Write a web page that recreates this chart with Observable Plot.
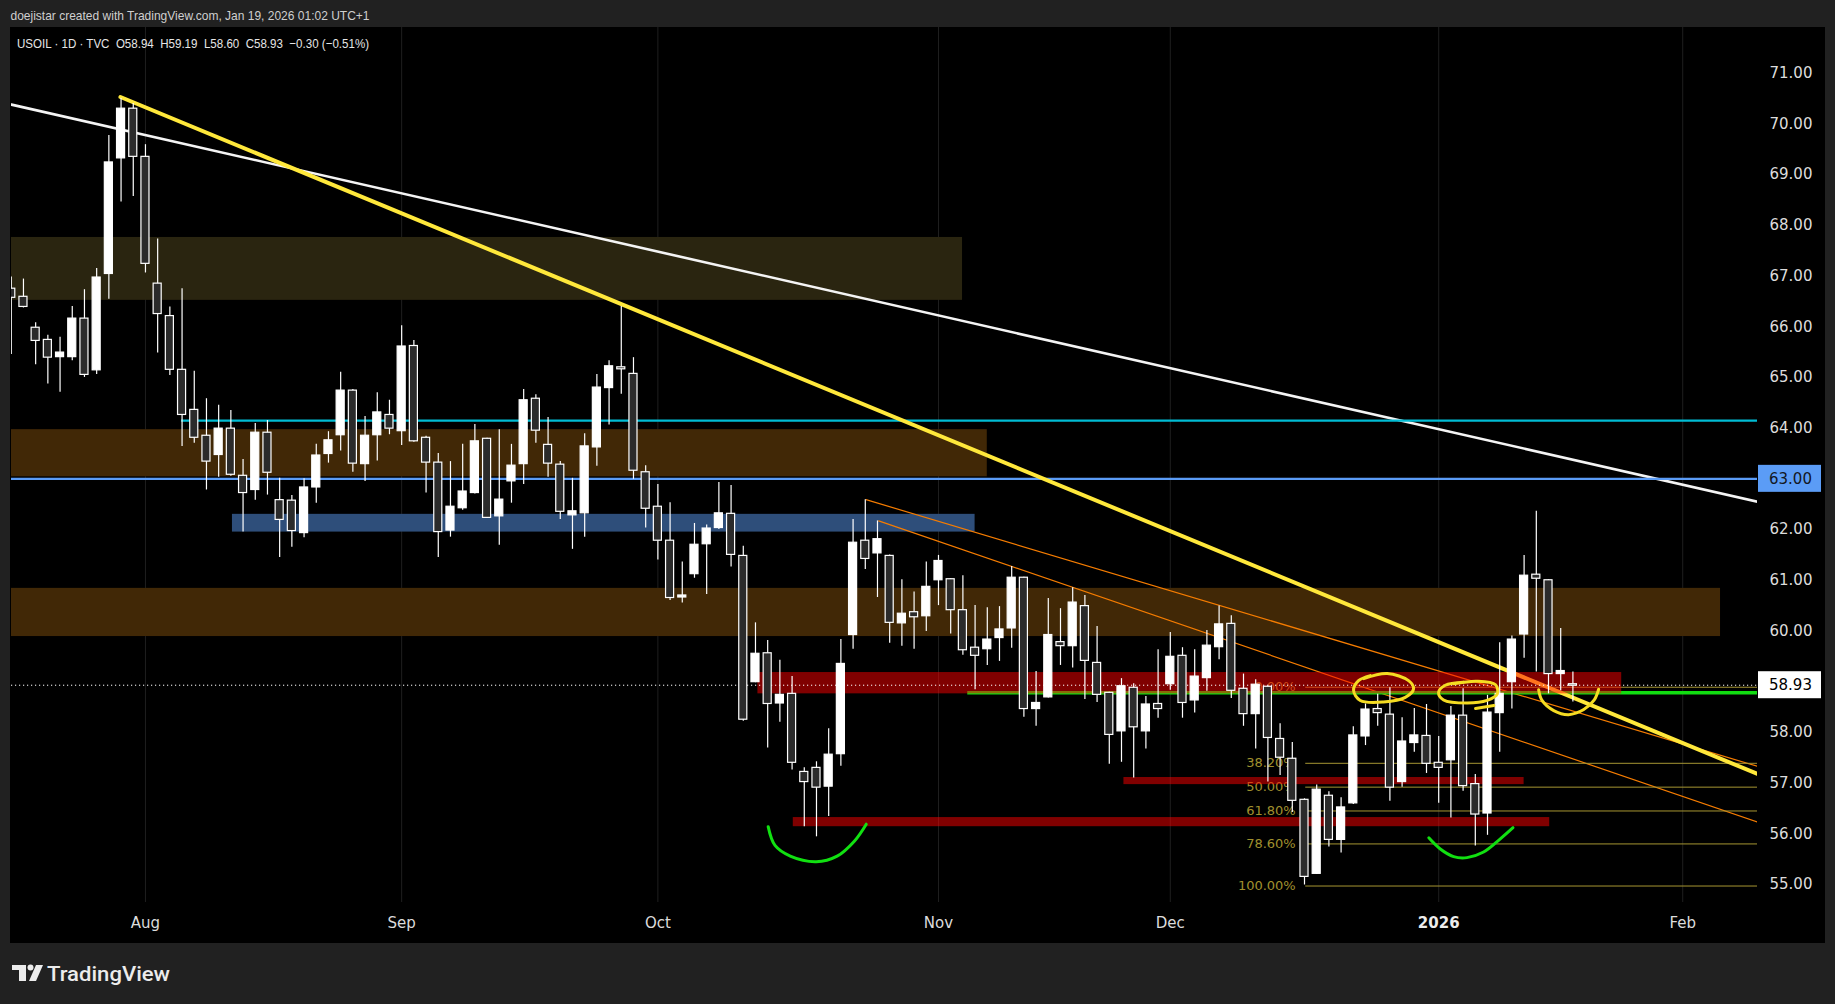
<!DOCTYPE html>
<html><head><meta charset="utf-8">
<script src="https://cdn.jsdelivr.net/npm/d3@7"></script>
<script src="https://cdn.jsdelivr.net/npm/@observablehq/plot@0.6"></script>
<style>
html,body{margin:0;padding:0;background:#212121;}
body{width:1835px;height:1004px;position:relative;overflow:hidden;}
#panel{position:absolute;left:10px;top:27px;width:1815px;height:916px;background:#000;}
#panel svg{display:block;}
.abs{position:absolute;}
</style></head><body>
<svg class="abs" style="left:0;top:0" width="700" height="27"><text x="10.5" y="19.5" textLength="359" lengthAdjust="spacingAndGlyphs" fill="#cfcfcf" font-size="13" font-family="'Liberation Sans', Arial, sans-serif" style="white-space:pre">doejistar created with TradingView.com, Jan 19, 2026 01:02 UTC+1</text></svg>
<div id="panel"></div>
<svg class="abs" style="left:10px;top:27px" width="600" height="32"><text x="7" y="21" textLength="352" lengthAdjust="spacingAndGlyphs" fill="#e6e6e6" font-size="13" font-family="'Liberation Sans', Arial, sans-serif" style="white-space:pre">USOIL · 1D · TVC  O58.94  H59.19  L58.60  C58.93  −0.30 (−0.51%)</text></svg>
<svg class="abs" style="left:12px;top:960px" width="220" height="34">
  <path d="M0 5h14v16H7V10H0z" fill="#ececec"/><circle cx="18.5" cy="7.5" r="3" fill="#ececec"/><path d="M24 5h7l-7 16h-7z" fill="#ececec"/>
  <text x="35" y="21" font-size="20" font-family="Roboto, sans-serif" font-weight="500" fill="#ececec" textLength="123" lengthAdjust="spacingAndGlyphs">TradingView</text>
</svg>
<script>
// ---- candles (bar index 0 = Aug 1, 2025) ----
const startIdx = -11;
const open  = [66.75,66.59,65.98,65.74,65.40,65.40,66.16,65.14,67.04,69.32,70.30,
  69.35,66.85,66.21,65.15,64.36,63.85,63.47,63.99,63.06,62.78,63.91,62.58,62.57,61.93,62.83,63.49,63.86,64.74,63.29,63.86,64.26,
  63.94,65.62,63.81,63.32,61.98,62.42,62.72,63.79,62.26,62.95,63.29,64.58,63.67,63.28,62.28,62.32,63.62,64.79,65.20,65.07,63.13,
  62.45,61.78,60.66,61.12,61.71,62.03,62.31,61.48,58.99,59.56,58.57,58.76,57.22,57.30,56.93,57.57,59.92,61.78,61.53,
  61.48,60.15,60.37,60.29,61.00,61.02,60.41,59.67,59.64,59.86,60.05,61.05,58.46,58.69,59.78,59.70,60.49,59.37,58.78,58.02,58.88,58.02,58.56,
  58.95,59.51,58.63,59.07,59.68,60.14,58.86,58.36,58.90,57.87,57.48,56.67,55.21,56.75,55.88,56.60,57.92,58.46,58.35,57.02,57.79,57.93,
  57.40,57.45,58.33,56.98,56.40,58.38,58.99,59.93,61.11,61.00,59.15,58.94];
const high  = [66.98,66.94,66.08,65.83,65.79,66.40,66.73,67.15,69.77,70.50,70.40,
  69.59,67.73,66.39,66.75,65.12,64.58,64.45,64.35,63.38,64.09,64.15,63.01,62.67,63.00,63.68,63.93,65.10,64.76,64.23,64.70,64.55,
  66.02,65.73,63.84,63.50,63.34,63.68,64.07,63.80,63.97,63.68,64.76,64.66,64.21,63.34,63.01,63.89,65.06,65.33,66.40,65.39,63.26,
  62.89,62.53,61.36,62.12,62.09,62.93,62.87,61.67,60.16,59.81,59.42,59.10,57.30,57.42,58.07,59.83,62.20,62.59,62.17,
  61.50,61.01,60.77,61.36,61.49,61.03,61.09,60.50,60.46,60.48,61.27,61.06,59.20,60.64,60.44,60.85,60.70,60.09,58.79,59.06,58.96,58.71,59.63,
  59.97,59.67,59.63,60.01,60.49,60.30,59.15,59.04,58.91,58.17,57.80,56.69,56.96,56.83,56.71,58.11,58.56,58.75,58.88,58.29,58.47,58.55,
  57.92,58.51,58.86,57.17,58.73,59.77,59.90,61.49,62.36,61.01,60.05,59.19];
const low   = [65.45,66.37,65.25,64.87,64.71,65.33,65.00,65.06,66.54,68.46,68.57,
  67.06,65.48,65.04,63.64,63.70,62.78,63.03,63.05,61.95,62.58,62.68,61.45,61.65,61.84,62.52,63.31,63.55,63.13,62.95,63.35,63.87,
  63.66,63.72,62.72,61.45,61.85,62.38,62.70,62.22,61.69,62.52,62.89,63.70,63.03,62.20,61.61,61.85,63.25,64.06,64.67,62.99,62.03,
  61.40,60.60,60.55,61.04,60.72,62.00,61.26,58.22,58.98,57.69,58.20,57.26,56.14,55.94,56.34,57.33,59.64,61.21,60.66,
  59.76,59.70,59.64,59.99,60.50,59.94,59.52,58.84,59.32,59.40,59.66,58.30,58.12,58.68,59.32,59.27,58.65,58.59,57.37,57.41,57.10,57.67,58.28,
  58.83,58.28,58.38,58.81,59.43,58.67,58.12,57.67,57.02,57.15,56.42,54.99,55.20,55.74,55.62,56.58,57.74,58.12,56.64,56.92,57.61,57.19,
  56.60,56.31,56.84,55.76,55.97,57.61,58.46,59.46,59.19,58.76,58.82,58.60];
const close = [66.57,66.39,65.72,65.39,65.49,66.16,65.05,66.97,69.24,70.30,69.35,
  67.24,66.25,65.15,64.26,63.81,63.34,63.99,63.08,62.72,63.91,63.12,62.19,61.97,62.83,63.46,63.76,64.74,63.30,63.85,64.31,63.99,
  65.61,63.74,63.32,61.95,62.45,62.75,63.74,62.23,62.59,63.26,64.55,63.95,63.30,62.35,62.36,63.64,64.80,65.22,65.16,63.16,62.41,
  61.78,60.65,60.70,61.70,62.02,62.32,61.50,58.25,59.55,58.56,58.74,57.40,57.02,56.91,57.56,59.35,61.74,61.42,61.81,
  60.16,60.34,60.27,60.87,61.38,60.41,59.62,59.51,59.83,60.03,61.05,58.46,58.58,59.92,59.70,60.56,59.41,58.74,57.95,58.91,58.10,58.55,58.46,
  59.49,58.58,59.10,59.71,60.13,58.82,58.36,58.94,57.89,57.50,56.65,55.15,56.87,55.88,56.52,57.94,58.45,58.38,56.91,57.82,57.94,57.38,
  57.30,58.33,56.94,56.38,58.39,58.76,59.83,61.09,61.03,59.15,59.21,58.93];

// ---- axes ----
const monthIdx    = [0, 21, 42, 65, 84, 106, 126];
const monthLabels = ["Aug", "Sep", "Oct", "Nov", "Dec", "2026", "Feb"];
const priceTicks  = [55, 56, 57, 58, 60, 61, 62, 64, 65, 66, 67, 68, 69, 70, 71];
const lastPrice = 58.93;
const markedLevel = 63.00;

// ---- drawings (bar index, price) ----
const whiteTrend  = [[-10.98, 70.38], [132.13, 62.55]];
const yellowTrend = [[-2.05, 70.53], [132.13, 57.18]];
const orangeA     = [[59.06, 62.59], [132.13, 57.33]];
const orangeB     = [[60.10, 62.17], [132.13, 56.23]];
const zoneNames   = ["olive", "brown1", "brown2", "blue"];
const zoneFrom    = [-11, -11, -11, 7.13];
const zoneTo      = [66.97, 69.0, 129.1, 68.0];
const zoneLow     = [66.52, 63.04, 59.89, 61.95];
const zoneHigh    = [67.76, 63.97, 60.84, 62.30];
const zoneColor   = ["#2a2510", "#412806", "#412806", "#2e4e7a"];
const redFrom     = [50.2, 80.2, 53.1];
const redTo       = [121.0, 113.0, 115.1];
const redLow      = [58.76, 56.97, 56.14];
const redHigh     = [59.18, 57.11, 56.32];
const levelPrice  = [64.15, 63.00, 58.78];
const levelFrom   = [2.95, -11, 67.4];
const levelColor  = ["#00bcd4", "#5b9cf6", "#11dd11"];
const levelWidth  = [2.2, 2.4, 3.5];
const fibStart    = 95.1;
const fibPrices   = [58.89, 57.39, 56.92, 56.45, 55.80, 54.97];
const fibLabels   = ["0.00%", "38.20%", "50.00%", "61.80%", "78.60%", "100.00%"];
const loopA = [[99.86,59.06],[101.78,59.16],[103.53,59.02],[103.94,58.86],[103.26,58.69],[101.48,58.60],[99.57,58.63],[99.02,58.83],[99.43,59.02],[100.39,59.12]];
const loopB = [[107.22,58.96],[109.16,59.01],[110.66,58.94],[110.80,58.76],[109.96,58.63],[108.32,58.58],[106.40,58.64],[105.99,58.79],[106.54,58.93],[108.04,58.99]];
const loopBTail = [[109.02,58.47],[110.52,58.53]];
const loopC = [[114.19,58.84],[114.47,58.63],[115.43,58.43],[116.65,58.35],[117.89,58.45],[118.75,58.64],[119.11,58.85]];
const greenCurve1 = [[51.04,56.14],[51.60,55.77],[52.85,55.56],[54.98,55.45],[56.69,55.56],[58.12,55.86],[59.08,56.19]];
const greenCurve2 = [[105.19,55.92],[106.13,55.70],[107.22,55.55],[108.32,55.53],[109.68,55.64],[111.05,55.90],[112.09,56.12]];

// ---- build tables ----
const X0 = -10.98, X1 = 132.13, Y0 = 54.645, Y1 = 71.901;
const candles = open.map((o, k) => {
  const c = close[k];
  let lo = Math.min(o, c), hi = Math.max(o, c);
  if (hi - lo < 0.03) { const m = (hi + lo) / 2; lo = m - 0.015; hi = m + 0.015; }
  return {i: startIdx + k, o, c, h: high[k], l: low[k], b1: lo, b2: hi, fill: c >= o ? "#ffffff" : "#2b2b2b"};
});
const zones = zoneNames.map((n, k) => ({x1: Math.max(zoneFrom[k], X0), x2: zoneTo[k], y1: zoneLow[k], y2: zoneHigh[k], color: zoneColor[k]}));
const reds = redFrom.map((f, k) => ({x1: f, x2: redTo[k], y1: redLow[k], y2: redHigh[k]}));
const levels = levelPrice.map((p, k) => ({p, x1: Math.max(levelFrom[k], X0), color: levelColor[k], w: levelWidth[k]}));
const fib = fibPrices.map((p, k) => ({p, label: fibLabels[k]}));
const months = monthIdx.map((i, k) => ({i, label: monthLabels[k]}));
const xy = {x: d => d[0], y: d => d[1]};

const plot = Plot.plot({
  width: 1815, height: 916,
  marginLeft: 1, marginRight: 68, marginTop: 0, marginBottom: 41,
  x: {domain: [X0, X1], axis: null},
  y: {domain: [Y0, Y1], axis: null},
  color: {type: "identity"},
  style: {background: "transparent", color: "#d9d9d9", fontFamily: "'DejaVu Sans', sans-serif", fontSize: "15px", overflow: "visible"},
  marks: [
    Plot.ruleX(monthIdx, {x: d => d, stroke: "#1f1f1f", strokeWidth: 1}),
    Plot.rect(zones, {x1: "x1", x2: "x2", y1: "y1", y2: "y2", fill: "color", clip: true}),
    Plot.line(whiteTrend, {...xy, stroke: "#f4f4f4", strokeWidth: 2.6, clip: true}),
    Plot.ruleY(levels.slice(0, 2), {y: "p", x1: "x1", x2: () => X1, stroke: "color", strokeWidth: "w"}),
    Plot.line(orangeA, {...xy, stroke: "#f57c00", strokeWidth: 1.2, clip: true}),
    Plot.line(orangeB, {...xy, stroke: "#f57c00", strokeWidth: 1.2, clip: true}),
    Plot.ruleY(fib, {y: "p", x1: () => fibStart, x2: () => X1, stroke: "#a69532", strokeWidth: 1}),
    Plot.text(fib, {x: () => fibStart, y: "p", dx: -10, text: "label", textAnchor: "end", fill: "#a0902e", fontSize: 13}),
    Plot.ruleY(levels.slice(2), {y: "p", x1: "x1", x2: () => X1, stroke: "color", strokeWidth: "w"}),
    Plot.line(yellowTrend, {...xy, stroke: "#ffe83b", strokeWidth: 4, clip: true}),
    Plot.rect(reds, {x1: "x1", x2: "x2", y1: "y1", y2: "y2", fill: "#ff0000", fillOpacity: 0.5}),
    Plot.ruleY([lastPrice], {y: d => d, stroke: "#ffffff", strokeWidth: 1, strokeDasharray: "1.2,2.8"}),
    Plot.ruleX(candles, {x: "i", y1: "l", y2: "h", stroke: "#ffffff", strokeWidth: 1.2, clip: true}),
    Plot.rect(candles, {x1: d => d.i - 0.33, x2: d => d.i + 0.33, y1: "b1", y2: "b2", fill: "fill", stroke: "#ffffff", strokeWidth: 1.2, clip: true}),
    Plot.line(loopA, {...xy, stroke: "#f5dc22", strokeWidth: 3, curve: "catmull-rom"}),
    Plot.line(loopB, {...xy, stroke: "#f5dc22", strokeWidth: 3, curve: "catmull-rom"}),
    Plot.line(loopBTail, {...xy, stroke: "#f5dc22", strokeWidth: 3}),
    Plot.line(loopC, {...xy, stroke: "#f5dc22", strokeWidth: 3, curve: "catmull-rom"}),
    Plot.line(greenCurve1, {...xy, stroke: "#11e011", strokeWidth: 3, curve: "catmull-rom"}),
    Plot.line(greenCurve2, {...xy, stroke: "#11e011", strokeWidth: 3, curve: "catmull-rom"}),
    Plot.text(priceTicks, {x: () => X1, y: d => d, dx: 12, textAnchor: "start", text: d => d.toFixed(2), fill: "#dcdcdc", fontSize: 15}),
    Plot.text(months.filter(d => d.label !== "2026"), {x: "i", y: () => Y0, dy: 21, text: "label", fill: "#dcdcdc", fontSize: 15}),
    Plot.text(months.filter(d => d.label === "2026"), {x: "i", y: () => Y0, dy: 21, text: "label", fill: "#ececec", fontSize: 15, fontWeight: "bold"})
  ]
});
document.getElementById("panel").appendChild(plot);

// price labels on the axis, positioned through the plot's own scales
const sx = plot.scale("x"), sy = plot.scale("y");
const xr = sx.apply(X1);
const svg = d3.select(plot);
[[markedLevel, "#5b9cf6", "#131722"], [lastPrice, "#ffffff", "#000000"]].forEach(([v, bg, fg]) => {
  const yy = sy.apply(v);
  const g = svg.append("g");
  g.append("rect").attr("x", xr + 1).attr("y", yy - 13.5).attr("width", 63).attr("height", 27).attr("fill", bg);
  g.append("text").attr("x", xr + 12).attr("y", yy).attr("dy", "0.35em").attr("fill", fg)
    .attr("text-anchor", "start").style("text-anchor", "start")
    .attr("font-size", 15).attr("font-family", "'DejaVu Sans', sans-serif").text(v.toFixed(2));
});
</script>
</body></html>
